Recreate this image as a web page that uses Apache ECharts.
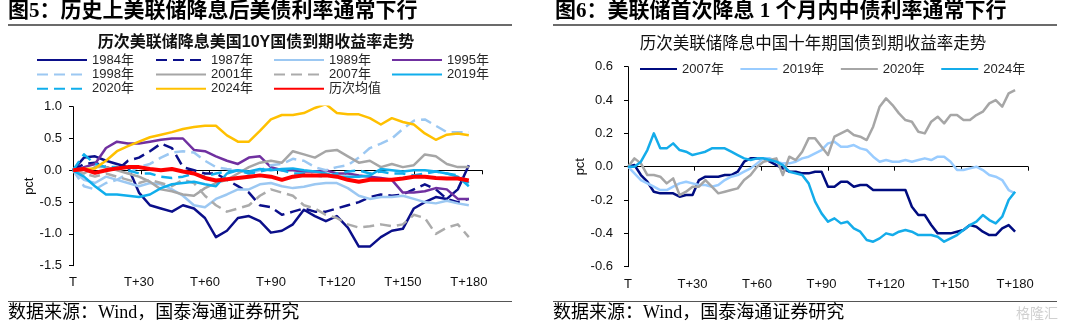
<!DOCTYPE html>
<html><head><meta charset="utf-8">
<script src="https://cdn.jsdelivr.net/npm/echarts@6/dist/echarts.min.js"></script>
<style>html,body{margin:0;padding:0;background:#fff}#c{width:1080px;height:326px}</style>
</head><body><div id="c"></div>
<script>
// ---------- Data: left chart (US 10Y, change vs T, pct) ----------
const daysL = [0,5,10,15,20,25,30,35,40,45,50,55,60,65,70,75,80,85,90,95,100,105,110,115,120,125,130,135,140,145,150,155,160,165,170,175,180];
const us1984 = [0,0.2,0.22,0.15,0.1,0.05,-0.35,-0.55,-0.6,-0.65,-0.55,-0.6,-0.75,-1.05,-0.95,-0.75,-0.72,-0.8,-0.98,-0.95,-0.85,-0.62,-0.72,-0.8,-0.72,-0.9,-1.2,-1.2,-1.05,-0.95,-0.92,-0.6,-0.5,-0.42,-0.45,-0.3,0.08];
const us1987 = [0,0.1,0.12,0.05,0.0,0.15,0.2,0.3,0.42,0.35,0.05,0.0,-0.05,-0.05,-0.15,-0.25,-0.35,-0.55,-0.58,-0.7,-0.65,-0.6,-0.65,-0.65,-0.6,-0.55,-0.5,-0.42,-0.38,-0.4,-0.38,-0.3,-0.22,-0.3,-0.45,-0.5,-0.45];
const us1989 = [0,-0.15,-0.2,-0.1,-0.15,-0.2,-0.25,-0.2,-0.22,-0.3,-0.4,-0.55,-0.58,-0.45,-0.38,-0.3,-0.3,-0.22,-0.2,-0.25,-0.28,-0.26,-0.22,-0.2,-0.2,-0.28,-0.4,-0.45,-0.42,-0.42,-0.4,-0.45,-0.5,-0.52,-0.48,-0.52,-0.55];
const us1995 = [0,0.05,0.1,0.35,0.45,0.42,0.42,0.45,0.48,0.5,0.5,0.32,0.3,0.22,0.15,0.1,0.2,0.22,0.05,0.0,0.0,-0.02,-0.02,0.0,-0.05,-0.05,-0.08,-0.1,-0.12,-0.15,-0.35,-0.35,-0.33,-0.28,-0.3,-0.45,-0.45];
const us1998 = [0,-0.25,-0.3,-0.2,-0.15,-0.05,0.05,0.1,0.2,0.28,0.3,0.28,0.15,0.05,0.02,0.0,-0.05,0.0,0.08,0.1,0.18,0.15,0.05,0.0,0.05,0.08,0.2,0.35,0.42,0.5,0.65,0.78,0.8,0.7,0.6,0.6,0.6];
const us2001 = [0,-0.05,0.05,0.05,0.0,-0.05,-0.1,-0.18,-0.3,-0.33,-0.38,-0.4,-0.28,-0.2,-0.15,-0.05,0.05,0.12,0.15,0.12,0.3,0.25,0.2,0.3,0.32,0.22,0.12,0.15,0.05,0.1,0.05,0.08,0.25,0.22,0.1,0.05,0.05];
const us2007 = [0,-0.05,-0.1,-0.05,-0.1,-0.15,-0.2,-0.15,-0.2,-0.25,-0.15,-0.2,-0.4,-0.55,-0.65,-0.6,-0.55,-0.4,-0.3,-0.35,-0.4,-0.55,-0.6,-0.7,-0.75,-0.85,-0.9,-0.88,-0.85,-0.88,-0.85,-0.7,-0.75,-1.0,-0.9,-0.85,-1.05];
const us2019 = [0,-0.1,-0.25,-0.38,-0.38,-0.4,-0.42,-0.38,-0.28,-0.22,-0.2,-0.18,-0.22,-0.25,-0.05,0.0,-0.02,0.02,0.0,0.02,0.03,0.0,-0.02,-0.05,-0.1,-0.1,-0.1,-0.08,0.02,0.0,-0.02,0.0,0.0,-0.02,-0.05,-0.1,-0.25];
const us2020 = [0,0.25,0.1,0.05,0.05,0.0,-0.05,-0.05,-0.1,-0.12,-0.1,-0.05,-0.1,-0.05,-0.02,0.0,-0.05,-0.02,0.02,0.0,-0.05,-0.05,-0.08,-0.1,-0.05,-0.02,0.0,-0.05,-0.02,-0.05,-0.05,-0.08,-0.05,-0.02,-0.05,-0.08,-0.2];
const us2024 = [0,0.02,0.03,0.15,0.3,0.38,0.45,0.52,0.56,0.6,0.65,0.68,0.7,0.7,0.55,0.45,0.45,0.62,0.8,0.87,0.87,0.9,0.98,1.04,0.9,0.88,0.88,0.82,0.72,0.82,0.76,0.72,0.58,0.48,0.56,0.58,0.55];
const usAvg  = [0,0.02,-0.04,0.0,0.03,0.05,0.05,0.02,0.0,0.02,-0.02,-0.05,-0.12,-0.16,-0.14,-0.12,-0.1,-0.08,-0.1,-0.15,-0.1,-0.08,-0.08,-0.08,-0.1,-0.15,-0.18,-0.15,-0.15,-0.15,-0.13,-0.1,-0.1,-0.12,-0.13,-0.13,-0.16];

// ---------- Data: right chart (China 10Y, change vs T, pct) ----------
const daysR = [0,3,6,9,12,15,18,21,24,27,30,33,36,39,42,45,48,51,54,57,60,63,66,69,72,75,78,81,84,87,90,93,96,99,102,105,108,111,114,117,120,123,126,129,132,135,138,141,144,147,150,153,156,159,162,165,168,171,174,177,180];
const cn2007 = [0,0.01,-0.05,-0.09,-0.15,-0.16,-0.16,-0.16,-0.18,-0.17,-0.17,-0.08,-0.06,-0.06,-0.06,-0.05,-0.05,-0.03,0.03,0.05,0.05,0.05,0.03,0.01,-0.01,-0.03,-0.03,-0.04,-0.04,-0.03,-0.03,-0.12,-0.12,-0.09,-0.09,-0.12,-0.11,-0.11,-0.14,-0.14,-0.14,-0.14,-0.14,-0.14,-0.24,-0.29,-0.29,-0.35,-0.4,-0.4,-0.4,-0.39,-0.38,-0.35,-0.36,-0.39,-0.41,-0.41,-0.37,-0.35,-0.39];
const cn2019 = [0,-0.04,-0.08,-0.1,-0.12,-0.14,-0.14,-0.12,-0.1,-0.09,-0.1,-0.11,-0.11,-0.12,-0.11,-0.08,-0.06,-0.05,-0.03,-0.01,0.02,0.05,0.05,0.03,0.02,0.02,0.03,0.05,0.06,0.08,0.1,0.14,0.15,0.12,0.12,0.13,0.11,0.1,0.06,0.03,0.04,0.03,0.03,0.04,0.03,0.04,0.05,0.04,0.06,0.06,0.03,-0.02,-0.02,-0.01,0.0,-0.02,-0.05,-0.06,-0.08,-0.14,-0.16];
const cn2020 = [0,0.05,0.02,-0.05,-0.05,-0.06,-0.1,-0.07,-0.17,-0.15,-0.12,-0.12,-0.08,-0.12,-0.16,-0.15,-0.14,-0.13,-0.08,-0.05,0.0,0.03,0.04,0.05,-0.05,0.06,0.04,0.09,0.17,0.17,0.12,0.07,0.18,0.2,0.22,0.19,0.18,0.16,0.24,0.36,0.41,0.37,0.32,0.28,0.27,0.21,0.2,0.27,0.3,0.26,0.31,0.31,0.28,0.28,0.31,0.33,0.38,0.4,0.36,0.44,0.46];
const cn2024 = [0,0.0,0.03,0.1,0.2,0.11,0.11,0.14,0.1,0.09,0.07,0.08,0.09,0.11,0.11,0.11,0.09,0.07,0.05,0.04,0.05,0.05,0.04,0.03,0.01,-0.03,-0.04,-0.05,-0.1,-0.21,-0.28,-0.33,-0.31,-0.34,-0.33,-0.37,-0.39,-0.44,-0.45,-0.43,-0.4,-0.41,-0.39,-0.38,-0.39,-0.41,-0.41,-0.41,-0.42,-0.45,-0.43,-0.41,-0.38,-0.35,-0.33,-0.29,-0.32,-0.34,-0.3,-0.2,-0.15];

const xTickLabels = ['T','T+30','T+60','T+90','T+120','T+150','T+180'];
const yTicksL = [-1.5,-1.0,-0.5,0.0,0.5,1.0];
const yTicksR = [-0.6,-0.4,-0.2,0.0,0.2,0.4,0.6];

// ---------- Build ----------
const SANS = "'Liberation Sans', Arial, 'Noto Sans CJK SC', sans-serif";
const CJK = "'Noto Sans CJK SC', 'Liberation Sans', sans-serif";
const SERIF = "'Liberation Serif', 'Noto Sans CJK SC', serif";
const pair = (days, v) => v.map((y, i) => [days[i], y]);

function line(name, days, data, color, width, dash, xi, yi, z) {
  return {
    type: 'line', name, data: pair(days, data), xAxisIndex: xi, yAxisIndex: yi,
    symbol: 'none', smooth: false, z: z || 2, silent: true,
    lineStyle: { color, width, type: dash ? [11, 6] : 'solid', cap: 'butt', join: 'round' },
    itemStyle: { color }
  };
}

const NAVY = '#0B0F8A', LBLUE = '#9CC8F2', PURPLE = '#7030A0', GRAY = '#A6A6A6', CYAN = '#10AEEC', GOLD = '#FFC000', RED = '#FF0000';

const series = [
  line('1984年', daysL, us1984, NAVY, 2.5, false, 0, 0),
  line('1987年', daysL, us1987, NAVY, 2.5, true, 0, 0),
  line('1989年', daysL, us1989, LBLUE, 2.5, false, 0, 0),
  line('1995年', daysL, us1995, PURPLE, 2.5, false, 0, 0),
  line('1998年', daysL, us1998, LBLUE, 2.5, true, 0, 0),
  line('2001年', daysL, us2001, GRAY, 2.5, false, 0, 0),
  line('2007年', daysL, us2007, '#ABABAB', 2.5, true, 0, 0),
  line('2019年', daysL, us2019, CYAN, 2.5, false, 0, 0),
  line('2020年', daysL, us2020, CYAN, 2.5, true, 0, 0),
  line('2024年', daysL, us2024, GOLD, 2.5, false, 0, 0),
  line('历次均值', daysL, usAvg, RED, 4, false, 0, 0, 5),
  line('R2007年', daysR, cn2007, '#000C80', 2.5, false, 2, 1),
  line('R2019年', daysR, cn2019, '#99CCFF', 2.5, false, 2, 1),
  line('R2020年', daysR, cn2020, GRAY, 2.5, false, 2, 1),
  line('R2024年', daysR, cn2024, '#14ACEA', 2.5, false, 2, 1)
];

const legText = { fontSize: 13, fontFamily: SANS, color: '#262626', lineHeight: 14 };
function colLegend(names, left) {
  return { data: names, left, top: 53, orient: 'vertical', itemWidth: 50, itemHeight: 14, itemGap: 0.4,
    selectedMode: false, textStyle: legText, padding: 0, itemStyle: { opacity: 0 } };
}

function tickAxis(gi) {
  return { gridIndex: gi, type: 'value', min: 0, max: 186, interval: 31, position: 'bottom',
    axisLine: { show: true, onZero: true, lineStyle: { color: '#000', width: 1 } },
    axisTick: { show: true, length: 4, lineStyle: { color: '#000', width: 1 } },
    axisLabel: { show: false }, splitLine: { show: false } };
}
function labelAxis(gi, margin) {
  return { gridIndex: gi, type: 'value', min: 0, max: 186, interval: 30, position: 'bottom',
    axisLine: { show: false, onZero: false }, axisTick: { show: false }, splitLine: { show: false },
    axisLabel: { margin, fontSize: 13, fontFamily: SANS, color: '#111',
      formatter: v => (v % 30 === 0 && v / 30 < xTickLabels.length) ? xTickLabels[v / 30] : '' } };
}
function yAx(gi, ticks, interval, margin, nameGap) {
  return { gridIndex: gi, type: 'value', min: ticks[0], max: ticks[ticks.length - 1], interval,
    axisLine: { show: true, lineStyle: { color: '#000', width: 1 } },
    axisTick: { show: true, length: 4, lineStyle: { color: '#000' } },
    splitLine: { show: false },
    axisLabel: { margin, fontSize: 13, fontFamily: SANS, color: '#111', formatter: v => v.toFixed(1) },
    name: 'pct', nameLocation: 'middle', nameGap,
    nameTextStyle: { fontSize: 13, fontFamily: SANS, color: '#111' } };
}

function txt(text, x, y, font, align, color) {
  return { type: 'text', silent: true, z: 10,
    style: { text, x, y, font, fill: color || '#000', align: align || 'left', verticalAlign: 'middle',
      textAlign: align || 'left', textVerticalAlign: 'middle' } };
}
function hline(x1, x2, y, w, color) {
  return { type: 'line', silent: true, z: 10, shape: { x1, y1: y, x2, y2: y },
    style: { stroke: color || '#333', lineWidth: w } };
}

const option = {
  animation: false,
  backgroundColor: '#fff',
  grid: [
    { left: 73, top: 106.7, width: 409, height: 159, containLabel: false },
    { left: 628, top: 66.7, width: 400, height: 200, containLabel: false }
  ],
  xAxis: [tickAxis(0), labelAxis(0, 10), tickAxis(1), labelAxis(1, 11)],
  yAxis: [yAx(0, yTicksL, 0.5, 11, 36), yAx(1, yTicksR, 0.2, 15, 41)],
  legend: [
    colLegend(['1984年', '1998年', '2020年'], 36),
    colLegend(['1987年', '2001年', '2024年'], 155),
    colLegend(['1989年', '2007年', '历次均值'], 273),
    colLegend(['1995年', '2019年'], 391),
    { data: ['R2007年', 'R2019年', 'R2020年', 'R2024年'], left: 639, top: 62, orient: 'horizontal',
      itemWidth: 37, itemHeight: 14, itemGap: 15.5, selectedMode: false, padding: 0,
      itemStyle: { opacity: 0 }, textStyle: legText, formatter: n => n.slice(1) }
  ],
  graphic: [
    txt('图5：历史上美联储降息后美债利率通常下行', 8, 12, "bold 21px " + SERIF),
    txt('图6：美联储首次降息 1 个月内中债利率通常下行', 555, 12, "bold 21px " + SERIF),
    hline(8, 512, 25, 1.3, '#3a3a3a'),
    hline(553, 1057, 25, 1.3, '#3a3a3a'),
    txt('历次美联储降息美国10Y国债到期收益率走势', 256, 43, "bold 16px " + SANS, 'center', '#111'),
    txt('历次美联储降息中国十年期国债到期收益率走势', 813, 43, "16.5px " + CJK, 'center', '#111'),
    hline(8, 512, 301.5, 1, '#555'),
    hline(553, 1057, 301.5, 1, '#555'),
    txt('数据来源：Wind，国泰海通证券研究', 8, 313, "18px " + SERIF),
    txt('数据来源：Wind，国泰海通证券研究', 553, 313, "18px " + SERIF),
    txt('格隆汇', 1058, 313, "14px " + CJK, 'right', '#d0d0d0')
  ],
  series
};

const chart = echarts.init(document.getElementById('c'), null, { renderer: 'canvas' });
chart.setOption(option);
</script>
</body></html>
